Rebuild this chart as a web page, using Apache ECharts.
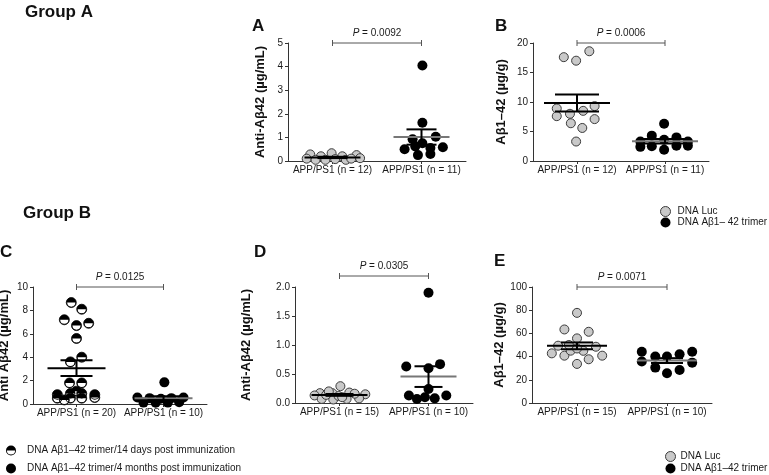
<!DOCTYPE html>
<html><head><meta charset="utf-8">
<script src="https://cdn.jsdelivr.net/npm/echarts@6/dist/echarts.min.js"></script>
<style>html,body{margin:0;padding:0;background:#fff}#c{width:769px;height:475px}</style>
</head><body><div id="c"></div>
<script>
// ---------- data ----------
const catsA = ['APP/PS1 (n = 12)', 'APP/PS1 (n = 11)'];
const catsB = ['APP/PS1 (n = 12)', 'APP/PS1 (n = 11)'];
const catsC = ['APP/PS1 (n = 20)', 'APP/PS1 (n = 10)'];
const catsD = ['APP/PS1 (n = 15)', 'APP/PS1 (n = 10)'];
const catsE = ['APP/PS1 (n = 15)', 'APP/PS1 (n = 10)'];

// y-axis [min, max, interval]
const yA = [0, 5, 1];
const yB = [0, 20, 5];
const yC = [0, 10, 2];
const yD = [0, 2, 0.5];
const yE = [0, 100, 20];

// values and horizontal jitter (fraction of category spacing)
const aLuc = [0.28, 0.2, 0.33, 0.2, 0.25, 0.1, 0.05, 0.05, 0.08, 0.05, 0.1, 0.12];
const aLucJit = [-0.25, -0.13, -0.01, 0.11, 0.27, -0.29, -0.19, -0.08, 0.03, 0.15, 0.21, 0.31];
const aTri = [4.05, 1.62, 0.92, 1.03, 0.75, 0.5, 0.62, 0.55, 0.58, 0.25, 0.3];
const aTriJit = [0.01, 0.01, -0.1, 0.16, 0.01, -0.19, -0.07, 0.1, 0.24, -0.04, 0.1];

const bLuc = [17.6, 17.0, 18.6, 8.9, 7.6, 8.0, 8.5, 9.3, 7.1, 6.4, 5.6, 3.3];
const bLucJit = [-0.15, -0.01, 0.14, -0.23, -0.23, -0.08, 0.07, 0.2, 0.2, -0.07, 0.06, -0.01];
const bTri = [3.3, 4.3, 2.5, 6.3, 3.6, 1.9, 4.0, 2.6, 3.3, 2.4, 2.6];
const bTriJit = [-0.28, -0.15, -0.15, -0.01, -0.01, -0.01, 0.13, 0.13, 0.26, -0.28, 0.26];

const cDay14 = [8.67, 8.1, 7.2, 6.7, 6.9, 5.6, 3.6, 4.0, 1.8, 1.8, 0.8, 0.5, 0.9, 0.5, 1.1, 0.9, 0.5, 0.8, 0.55, 0.35];
const cDay14Jit = [-0.06, 0.06, -0.14, 0, 0.14, 0, -0.07, 0.06, -0.08, 0.06, -0.22, -0.22, -0.07, -0.07, 0, 0.06, 0.06, 0.21, 0.21, -0.14];
const cMonth4 = [1.85, 0.55, 0.5, 0.45, 0.5, 0.55, 0.12, 0.1, 0.12, 0.15];
const cMonth4Jit = [0.01, -0.3, -0.16, -0.03, 0.09, 0.23, -0.23, -0.09, 0.05, 0.18];

const dLuc = [0.29, 0.17, 0.13, 0.17, 0.18, 0.15, 0.07, 0.06, 0.07, 0.08, 0.14, 0.12, 0.16, 0.1, 0.2];
const dLucJit = [0.01, -0.22, -0.28, -0.08, 0.11, 0.29, -0.2, -0.07, 0.08, 0.22, -0.15, -0.01, 0.17, 0.03, -0.12];
const dTri = [1.9, 0.63, 0.6, 0.67, 0.24, 0.13, 0.07, 0.08, 0.13, 0.1];
const dTriJit = [0, -0.25, 0, 0.13, 0, -0.22, -0.13, 0.07, 0.2, -0.04];

const eLuc = [77.7, 63.4, 61.4, 55.7, 49.4, 48.5, 42.8, 40.8, 45.1, 45, 40.8, 37.7, 33.7, 47, 50];
const eLucJit = [0, -0.14, 0.13, 0, -0.21, 0.21, -0.28, -0.14, -0.07, 0.07, 0.28, 0.13, 0, 0, -0.09];
const eTri = [44.2, 35.7, 40, 40, 42, 44.2, 34.8, 30.5, 25.7, 28.5];
const eTriJit = [-0.28, -0.28, -0.13, 0, 0.14, 0.28, 0.28, -0.13, 0, 0.14];

const pVals = ['0.0092', '0.0006', '0.0125', '0.0305', '0.0071'];

// ---------- styles / layout ----------
const FONT = '"Liberation Sans", Arial, Helvetica, sans-serif';
const TXT = '#1a1a1a';
const HALF = 'path://M0,10A10,10,0,1,1,20,10A10,10,0,1,1,0,10ZM1.8,10A8.2,8.2,0,0,0,18.2,10L1.8,10Z';
const lucStyle = {color: '#c9c9c9', borderColor: '#3c3c3c', borderWidth: 1, opacity: 1};
const triStyle = {color: '#000', opacity: 1};

const panels = [
  {left: 288, top: 43, width: 178, height: 118, cats: catsA, y: yA, dec: 0, yName: 'Anti-Aβ42 (µg/mL)', nameGap: 21,
   g1: aLuc, j1: aLucJit, g2: aTri, j2: aTriJit, n1: 'DNA Luc', n2: 'DNA Aβ1– 42 trimer', kind: 'luc', p: pVals[0], lift: 0, hw: 28, cw: 15},
  {left: 533, top: 43, width: 176, height: 118, cats: catsB, y: yB, dec: 0, yName: 'Aβ1–42 (µg/g)', nameGap: 25,
   g1: bLuc, j1: bLucJit, g2: bTri, j2: bTriJit, n1: 'DNA Luc', n2: 'DNA Aβ1– 42 trimer', kind: 'luc', p: pVals[1], lift: 0, hw: 33, cw: 22},
  {left: 33, top: 287, width: 174, height: 117, cats: catsC, y: yC, dec: 0, yName: 'Anti Aβ42 (µg/mL)', nameGap: 22,
   g1: cDay14, j1: cDay14Jit, g2: cMonth4, j2: cMonth4Jit, n1: 'DNA Aβ1–42 trimer/14 days post immunization', n2: 'DNA Aβ1–42 trimer/4 months post immunization', kind: 'half', p: pVals[2], lift: 0, hw: 29, cw: 16},
  {left: 295, top: 287, width: 178, height: 116, cats: catsD, y: yD, dec: 1, yName: 'Anti-Aβ42 (µg/mL)', nameGap: 42,
   g1: dLuc, j1: dLucJit, g2: dTri, j2: dTriJit, n1: 'DNA Luc', n2: 'DNA Aβ1–42 trimer', kind: 'luc', p: pVals[3], lift: 11, hw: 28, cw: 14},
  {left: 532, top: 287, width: 180, height: 116, cats: catsE, y: yE, dec: 0, yName: 'Aβ1–42 (µg/g)', nameGap: 25,
   g1: eLuc, j1: eLucJit, g2: eTri, j2: eTriJit, n1: 'DNA Luc', n2: 'DNA Aβ1–42 trimer', kind: 'luc', p: pVals[4], lift: 0, hw: 30, cw: 16}
];

function meanSem(a) {
  const n = a.length, m = a.reduce((s, v) => s + v, 0) / n;
  const sd = Math.sqrt(a.reduce((s, v) => s + (v - m) * (v - m), 0) / (n - 1));
  return [m, sd / Math.sqrt(n)];
}

const grid = [], xAxis = [], yAxis = [], series = [];
panels.forEach((p, i) => {
  grid.push({left: p.left, top: p.top, width: p.width, height: p.height, outerBoundsMode: 'none', containLabel: false});
  xAxis.push({type: 'category', gridIndex: i, data: p.cats, boundaryGap: true,
    axisLine: {show: true, lineStyle: {color: '#333', width: 1}},
    axisTick: {show: true, alignWithLabel: true, length: 3, lineStyle: {color: '#333'}},
    axisLabel: {interval: 0, margin: 4, fontSize: 10, color: TXT, fontFamily: FONT},
    splitLine: {show: false}});
  xAxis.push({type: 'value', gridIndex: i, min: 0.5, max: 2.5, show: false});
  yAxis.push({type: 'value', gridIndex: i, min: p.y[0], max: p.y[1], interval: p.y[2],
    name: p.yName, nameLocation: 'middle', nameGap: p.nameGap, nameRotate: 90,
    nameTextStyle: {fontSize: 13, fontWeight: 'bold', color: '#111', fontFamily: FONT},
    axisLine: {show: true, lineStyle: {color: '#333', width: 1}},
    axisTick: {show: true, length: 3, lineStyle: {color: '#333'}},
    axisLabel: {margin: 5, fontSize: 10, color: TXT, fontFamily: FONT, formatter: v => v.toFixed(p.dec)},
    splitLine: {show: false}});
  const xi = 2 * i + 1;
  const pts1 = p.g1.map((v, k) => [1 + p.j1[k], v]);
  const pts2 = p.g2.map((v, k) => [2 + p.j2[k], v]);
  if (p.kind === 'half') {
    series.push({type: 'scatter', name: 'underlay', xAxisIndex: xi, yAxisIndex: i, data: pts1, symbol: 'circle', symbolSize: 10,
      itemStyle: {color: '#fff', borderColor: '#000', borderWidth: 0.8, opacity: 1}, silent: true, z: 2});
    series.push({type: 'scatter', name: p.n1, xAxisIndex: xi, yAxisIndex: i, data: pts1, symbol: HALF, symbolSize: 10,
      itemStyle: {color: '#000', opacity: 1}, z: 2});
  } else {
    series.push({type: 'scatter', name: p.n1, xAxisIndex: xi, yAxisIndex: i, data: pts1, symbol: 'circle', symbolSize: 9,
      itemStyle: lucStyle, z: 2});
  }
  series.push({type: 'scatter', name: p.n2, xAxisIndex: xi, yAxisIndex: i, data: pts2, symbol: 'circle', symbolSize: 10,
    itemStyle: triStyle, z: 2});
  const s1 = meanSem(p.g1), s2 = meanSem(p.g2);
  series.push({type: 'custom', name: 'sem' + i, xAxisIndex: xi, yAxisIndex: i, z: 4, silent: true, clip: false,
    encode: {x: 0, y: 1},
    data: [[1, s1[0], s1[1], 0], [2, s2[0], s2[1], 1]],
    renderItem: (params, api) => {
      const x = api.value(0), m = api.value(1), s = api.value(2), k = api.value(3);
      const c = api.coord([x, m]), hi = api.coord([x, m + s]), lo = api.coord([x, m - s]);
      const mc = k === 0 ? '#000' : '#777';
      const ln = (x1, y1, x2, y2, col) => ({type: 'line', shape: {x1, y1, x2, y2}, style: {stroke: col, lineWidth: 2}});
      return {type: 'group', children: [
        ln(c[0] - p.hw, c[1], c[0] + p.hw, c[1], mc),
        ln(c[0], hi[1], c[0], lo[1], '#000'),
        ln(c[0] - p.cw, hi[1], c[0] + p.cw, hi[1], '#000'),
        ln(c[0] - p.cw, lo[1], c[0] + p.cw, lo[1], '#000')
      ]};
    }});
  series.push({type: 'custom', name: 'p' + i, xAxisIndex: xi, yAxisIndex: i, z: 4, silent: true, clip: false,
    encode: {x: 0, y: 2},
    data: [[1, 2, p.y[1]]],
    renderItem: (params, api) => {
      const a = api.coord([api.value(0), api.value(2)]), b = api.coord([api.value(1), api.value(2)]);
      const y = a[1] - p.lift;
      const st = {stroke: '#555', lineWidth: 1};
      return {type: 'group', children: [
        {type: 'line', shape: {x1: a[0], y1: y, x2: b[0], y2: y}, style: st},
        {type: 'line', shape: {x1: a[0], y1: y - 3, x2: a[0], y2: y + 3}, style: st},
        {type: 'line', shape: {x1: b[0], y1: y - 3, x2: b[0], y2: y + 3}, style: st},
        {type: 'text', x: (a[0] + b[0]) / 2, y: y - 10, style: {
          text: '{i|P} = ' + p.p, fontSize: 10, fontFamily: FONT, fill: TXT, align: 'center', verticalAlign: 'middle',
          rich: {i: {fontStyle: 'italic', fontSize: 10, fontFamily: FONT, fill: TXT}}}}
      ]};
    }});
});

const legTxt = {fontSize: 10, color: TXT, fontFamily: FONT};
const option = {
  animation: false,
  backgroundColor: '#fff',
  grid, xAxis, yAxis, series,
  legend: [
    {orient: 'vertical', left: 660, top: 206, padding: 0, itemGap: 0, itemWidth: 10, itemHeight: 10, selectedMode: false,
     textStyle: Object.assign({padding: [0, 0, 0, 2], lineHeight: 11}, legTxt),
     data: [{name: 'DNA Luc', icon: 'circle', itemStyle: lucStyle}, {name: 'DNA Aβ1– 42 trimer', icon: 'circle', itemStyle: triStyle}]},
    {orient: 'vertical', left: 665, top: 451, padding: 0, itemGap: 1, itemWidth: 10, itemHeight: 10, selectedMode: false,
     textStyle: Object.assign({padding: [0, 0, 0, 0], lineHeight: 11}, legTxt),
     data: [{name: 'DNA Luc', icon: 'circle', itemStyle: lucStyle}, {name: 'DNA Aβ1–42 trimer', icon: 'circle', itemStyle: triStyle}]},
    {orient: 'vertical', left: 6, top: 445, padding: 0, itemGap: 7, itemWidth: 10, itemHeight: 10, selectedMode: false,
     textStyle: Object.assign({padding: [0, 0, 0, 6], lineHeight: 11}, legTxt),
     data: [{name: 'DNA Aβ1–42 trimer/14 days post immunization', icon: HALF, itemStyle: {color: '#000', opacity: 1}},
            {name: 'DNA Aβ1–42 trimer/4 months post immunization', icon: 'circle', itemStyle: triStyle}]}
  ],
  graphic: [
    {type: 'text', x: 25, y: 12, style: {text: 'Group A', font: 'bold 17px ' + FONT, fill: '#111', align: 'left', verticalAlign: 'middle'}},
    {type: 'text', x: 23, y: 213, style: {text: 'Group B', font: 'bold 17px ' + FONT, fill: '#111', align: 'left', verticalAlign: 'middle'}},
    {type: 'text', x: 252, y: 26, style: {text: 'A', font: 'bold 17px ' + FONT, fill: '#111', align: 'left', verticalAlign: 'middle'}},
    {type: 'text', x: 495, y: 26, style: {text: 'B', font: 'bold 17px ' + FONT, fill: '#111', align: 'left', verticalAlign: 'middle'}},
    {type: 'text', x: 0, y: 252, style: {text: 'C', font: 'bold 17px ' + FONT, fill: '#111', align: 'left', verticalAlign: 'middle'}},
    {type: 'text', x: 254, y: 252, style: {text: 'D', font: 'bold 17px ' + FONT, fill: '#111', align: 'left', verticalAlign: 'middle'}},
    {type: 'text', x: 494, y: 261, style: {text: 'E', font: 'bold 17px ' + FONT, fill: '#111', align: 'left', verticalAlign: 'middle'}}
  ]
};
const chart = echarts.init(document.getElementById('c'), null, {renderer: 'canvas'});
chart.setOption(option);
</script></body></html>
